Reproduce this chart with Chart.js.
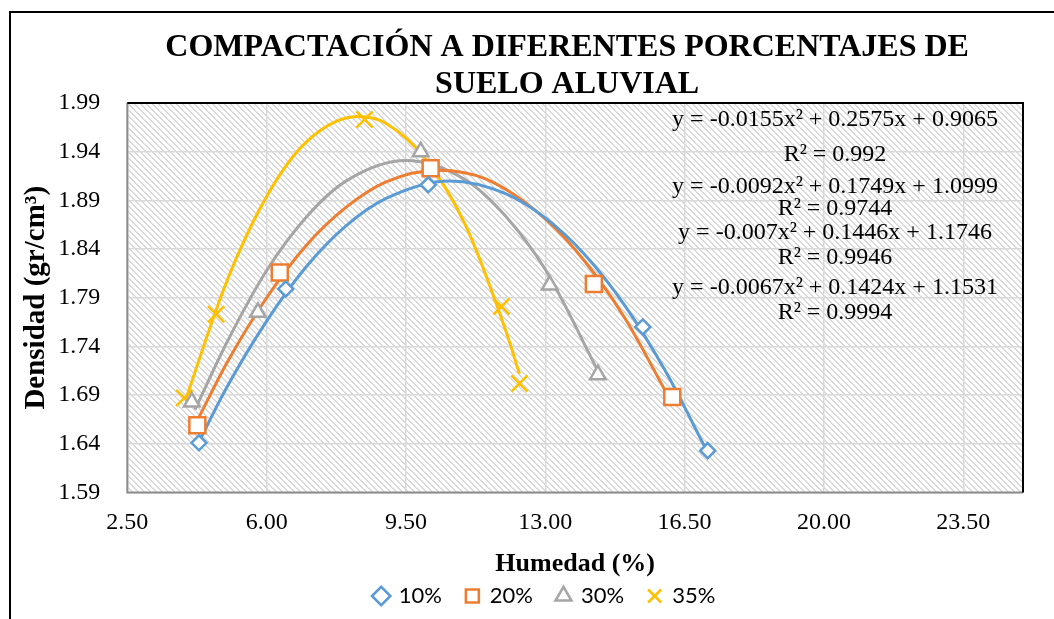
<!DOCTYPE html>
<html>
<head>
<meta charset="utf-8">
<script src="https://cdn.jsdelivr.net/npm/chart.js@4.4.0/dist/chart.umd.min.js"></script>
<style>
  html, body { margin: 0; padding: 0; background: #fff; }
</style>
</head>
<body>
<canvas id="graficoCompactacion" width="1054" height="619"></canvas>
<script>
// puntos medidos (humedad %, densidad gr/cm3)
const etiquetasSeries = ['10%', '20%', '30%', '35%'];
const coloresSeries = ['#5B9BD5', '#ED7D31', '#A5A5A5', '#FFC000'];

const humedad10 = [4.30, 6.48, 10.06, 15.45, 17.08];
const densidad10 = [1.641, 1.799, 1.906, 1.760, 1.633];
const humedad20 = [4.26, 6.33, 10.12, 14.22, 16.19];
const densidad20 = [1.659, 1.816, 1.923, 1.804, 1.688];
const humedad30 = [4.12, 5.78, 9.87, 13.11, 14.32];
const densidad30 = [1.683, 1.775, 1.940, 1.803, 1.711];
const humedad35 = [3.93, 4.73, 8.46, 11.90, 12.35];
const densidad35 = [1.687, 1.773, 1.973, 1.781, 1.702];

// lineas de tendencia
const curvaX10 = [4.3, 5, 6, 7, 8, 9, 10.6, 12, 13, 14, 15, 16, 17.08];
const curvaY10 = [1.642, 1.698, 1.766, 1.822, 1.864, 1.892, 1.910, 1.897, 1.872, 1.834, 1.782, 1.716, 1.631];
const curvaX20 = [4.26, 5, 6, 7, 8, 9, 10.3, 11.5, 13, 14, 15, 16.19];
const curvaY20 = [1.664, 1.723, 1.790, 1.844, 1.883, 1.909, 1.921, 1.912, 1.871, 1.827, 1.769, 1.681];
const curvaX30 = [4.2, 5, 6, 7, 8, 9.5, 11, 12, 13, 14.32];
const curvaY30 = [1.675, 1.744, 1.818, 1.873, 1.910, 1.931, 1.911, 1.874, 1.819, 1.715];
const curvaX35 = [3.97, 5, 6, 7, 8.3, 9, 10, 11, 12, 12.35];
const curvaY35 = [1.686, 1.807, 1.894, 1.950, 1.976, 1.969, 1.932, 1.864, 1.757, 1.712];

const ticksHumedad = [2.5, 6, 9.5, 13, 16.5, 20, 23.5];
const ticksDensidad = [1.59, 1.64, 1.69, 1.74, 1.79, 1.84, 1.89, 1.94, 1.99];

const ecuaciones = [
    'y = -0.0155x² + 0.2575x + 0.9065', 'R² = 0.992',
    'y = -0.0092x² + 0.1749x + 1.0999', 'R² = 0.9744',
    'y = -0.007x² + 0.1446x + 1.1746', 'R² = 0.9946',
    'y = -0.0067x² + 0.1424x + 1.1531', 'R² = 0.9994'
];

const humedades = [humedad10, humedad20, humedad30, humedad35];
const densidades = [densidad10, densidad20, densidad30, densidad35];
const curvasX = [curvaX10, curvaX20, curvaX30, curvaX35];
const curvasY = [curvaY10, curvaY20, curvaY30, curvaY35];
const estilos = ['rectRot', 'rect', 'triangle', 'crossRot'];
const radios = [7.5, 11.3, 9, 11.5];

function aPuntos(xs, ys) {
    return xs.map((x, i) => ({ x: x, y: ys[i] }));
}

const conjuntos = [];
for (let i = 0; i < 4; i++) {
    conjuntos.push({
        label: etiquetasSeries[i],
        data: aPuntos(humedades[i], densidades[i]),
        showLine: false,
        pointStyle: estilos[i],
        pointRadius: radios[i],
        pointHoverRadius: radios[i],
        pointBackgroundColor: '#ffffff',
        pointBorderColor: coloresSeries[i],
        pointBorderWidth: 2.5,
        backgroundColor: '#ffffff',
        borderColor: coloresSeries[i],
        order: 1
    });
}
for (let i = 0; i < 4; i++) {
    conjuntos.push({
        label: 'tendencia ' + etiquetasSeries[i],
        data: aPuntos(curvasX[i], curvasY[i]),
        showLine: true,
        pointRadius: 0,
        pointHoverRadius: 0,
        borderColor: coloresSeries[i],
        borderWidth: 3,
        cubicInterpolationMode: 'monotone',
        fill: false,
        order: 2
    });
}

// patron rayado del area de trazado
function crearRayado() {
    const c = document.createElement('canvas');
    c.width = 6; c.height = 6;
    const g = c.getContext('2d');
    g.fillStyle = '#ffffff';
    g.fillRect(0, 0, 6, 6);
    g.fillStyle = '#dadada';
    for (let y = 0; y < 6; y++) {
        for (let x = 0; x < 6; x++) {
            const d = ((x - y) % 6 + 6) % 6;
            if (d < 2) g.fillRect(x, y, 1, 1);
        }
    }
    return c;
}

const fondoPlugin = {
    id: 'fondo',
    afterLayout(chart) {
        // pequeno ajuste horizontal de leyenda y titulo
        chart.legend.left += 7.5;
        chart.legend.right += 7.5;
        chart.titleBlock.left -= 8;
        chart.titleBlock.right -= 8;
    },
    beforeDraw(chart) {
        const ctx = chart.ctx;
        const a = chart.chartArea;
        ctx.save();
        ctx.fillStyle = '#ffffff';
        ctx.fillRect(0, 0, chart.width, chart.height);
        ctx.fillStyle = ctx.createPattern(crearRayado(), 'repeat');
        ctx.fillRect(a.left, a.top, a.right - a.left, a.bottom - a.top);
        // marco exterior
        ctx.strokeStyle = '#000000';
        ctx.lineWidth = 2;
        ctx.beginPath();
        ctx.moveTo(10, 620);
        ctx.lineTo(10, 12);
        ctx.lineTo(1054, 12);
        ctx.stroke();
        ctx.restore();
    },
    beforeDatasetsDraw(chart) {
        const ctx = chart.ctx;
        const a = chart.chartArea;
        ctx.save();
        ctx.lineWidth = 2;
        ctx.strokeStyle = '#8c8c8c';
        ctx.beginPath();
        ctx.moveTo(a.left, a.top);
        ctx.lineTo(a.left, a.bottom);
        ctx.lineTo(a.right, a.bottom);
        ctx.stroke();
        ctx.strokeStyle = '#000000';
        ctx.beginPath();
        ctx.moveTo(a.left, a.top);
        ctx.lineTo(a.right, a.top);
        ctx.lineTo(a.right, a.bottom);
        ctx.stroke();
        ctx.restore();
    },
    afterDatasetsDraw(chart) {
        const ctx = chart.ctx;
        const filas = [120, 155, 187, 209, 233, 258, 288, 313];
        ctx.save();
        ctx.fillStyle = '#000000';
        ctx.font = '24px "Liberation Serif"';
        ctx.textAlign = 'center';
        ctx.textBaseline = 'middle';
        ecuaciones.forEach((t, i) => ctx.fillText(t, 835, filas[i]));
        ctx.restore();
    }
};

const fuenteSerif = 'Liberation Serif';

new Chart(document.getElementById('graficoCompactacion'), {
    type: 'scatter',
    data: { datasets: conjuntos },
    options: {
        responsive: false,
        animation: false,
        layout: { padding: { left: 52, right: 31, top: 14, bottom: 2 } },
        plugins: {
            title: {
                display: true,
                fullSize: false,
                text: ['COMPACTACIÓN A DIFERENTES PORCENTAJES DE', 'SUELO ALUVIAL'],
                color: '#000000',
                font: { family: fuenteSerif, size: 32, weight: 'bold', lineHeight: 1.156 },
                padding: { top: 15.5, bottom: -0.5 }
            },
            legend: {
                position: 'bottom',
                labels: {
                    usePointStyle: true,
                    boxWidth: 13,
                    boxHeight: 13,
                    padding: 24,
                    color: '#000000',
                    font: { family: 'Lato', size: 22 },
                    filter: (item) => item.datasetIndex < 4
                }
            },
            tooltip: { enabled: false }
        },
        scales: {
            x: {
                type: 'linear',
                min: 2.5,
                max: 25,
                afterBuildTicks: (s) => { s.ticks = ticksHumedad.map(v => ({ value: v })); },
                afterFit: (s) => { s.height = 68.5; },
                border: { display: false },
                grid: { color: '#d9d9d9', lineWidth: 1.5, drawTicks: false },
                ticks: {
                    padding: 16,
                    color: '#000000',
                    font: { family: fuenteSerif, size: 24 },
                    callback: (v) => Number(v).toFixed(2)
                },
                title: {
                    display: true,
                    text: 'Humedad (%)',
                    color: '#000000',
                    font: { family: fuenteSerif, size: 26, weight: 'bold', lineHeight: 1.2 },
                    padding: { top: 0, bottom: -18.5 }
                }
            },
            y: {
                type: 'linear',
                min: 1.59,
                max: 1.99,
                afterBuildTicks: (s) => { s.ticks = ticksDensidad.map(v => ({ value: v })); },
                afterFit: (s) => { s.width = 75.3; },
                border: { display: false },
                grid: { color: '#d9d9d9', lineWidth: 1.5, drawTicks: false },
                ticks: {
                    padding: 27,
                    color: '#000000',
                    font: { family: fuenteSerif, size: 24 },
                    callback: (v) => Number(v).toFixed(2)
                },
                title: {
                    display: true,
                    text: 'Densidad (gr/cm³)',
                    color: '#000000',
                    font: { family: fuenteSerif, size: 29, weight: 'bold', lineHeight: 1.2 },
                    padding: { top: -32.4, bottom: 0 }
                }
            }
        }
    },
    plugins: [fondoPlugin]
});
</script>
</body>
</html>
